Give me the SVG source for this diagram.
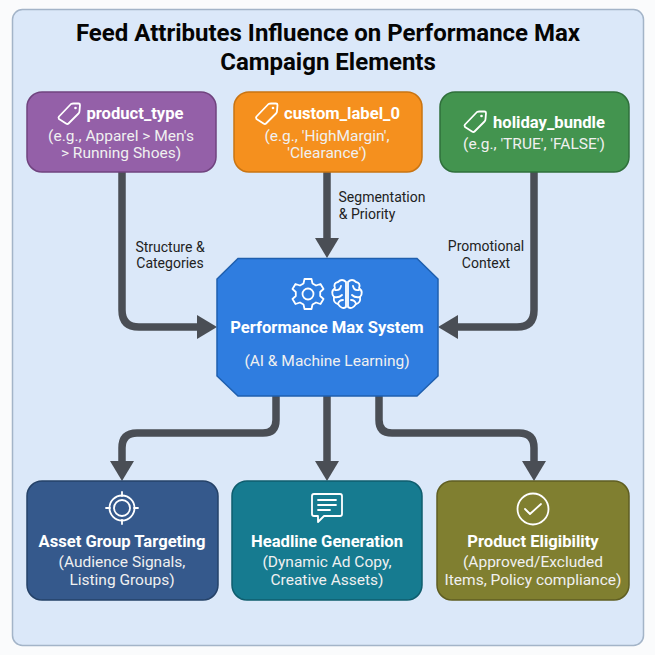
<svg xmlns="http://www.w3.org/2000/svg" width="655" height="655" viewBox="0 0 655 655">
<style>
text{font-family:Roboto,"Liberation Sans",sans-serif;text-anchor:middle}
.t{font-size:24px;font-weight:700;fill:#050505}
.h{font-size:16.6px;font-weight:700;fill:#fff}
.s{font-size:15.5px;fill:#f0f0f0}
.l{font-size:14px;fill:#222}
.n{stroke-width:1.5}
.i{fill:none;stroke:#fff;stroke-width:1.8;stroke-linecap:round;stroke-linejoin:round}
.c{fill:none;stroke:#4a4e55;stroke-width:7.5}
</style>
<defs>
<marker id="a" markerUnits="userSpaceOnUse" markerWidth="24" markerHeight="26" refX="6" refY="12" orient="auto"><path d="M0 0L20 12L0 24Z" fill="#4a4e55"/></marker>
<g id="tag"><path class="i" d="M-10 2.500L2-10Q3-10.500 4.500-10.500L9.500-10.500Q11-10.500 11-9L10.500-3Q10.500-1.500 9.500-.5L-.5 9.500Q-1.500 10.500-3 9.500L-10 5Q-11 3.500-10 2.500Z"/><circle cx="6.500" cy="-6" r="1.300" fill="#fff"/></g>
</defs>
<rect width="655" height="655" fill="#fafbfc"/>
<rect x="12.500" y="9.500" width="631" height="636" rx="10" fill="#dbe8f9" stroke="#a3b4c8" stroke-width="1.500"/>
<text class="t" x="328" y="41">Feed Attributes Influence on Performance Max</text>
<text class="t" x="328" y="70">Campaign Elements</text>
<g id="connectors">
<path class="c" marker-end="url(#a)" d="M122 172V310Q122 327 139 327H203"/>
<path class="c" marker-end="url(#a)" d="M327 172V244"/>
<path class="c" marker-end="url(#a)" d="M534 172V310Q534 327 517 327H452"/>
<path class="c" marker-end="url(#a)" d="M276 396V420Q276 433 263 433H137Q122 433 122 448V467"/>
<path class="c" marker-end="url(#a)" d="M327 396V467"/>
<path class="c" marker-end="url(#a)" d="M379 396V420Q379 433 392 433H519Q534 433 534 448V467"/>
</g>
<g id="labels">
<text class="l" x="170" y="252">Structure &amp;</text><text class="l" x="170" y="268">Categories</text>
<text class="l" x="382" y="202">Segmentation</text><text class="l" x="367" y="219">&amp; Priority</text>
<text class="l" x="486" y="251">Promotional</text><text class="l" x="486" y="268">Context</text>
</g>
<g id="product_type">
<rect class="n" x="27" y="92" width="189" height="80" rx="15" fill="#9460a8" stroke="#70437f"/>
<use href="#tag" x="69" y="114"/>
<text class="h" x="135" y="119">product_type</text>
<text class="s" x="121" y="141">(e.g., Apparel &gt; Men's</text>
<text class="s" x="121" y="158">&gt; Running Shoes)</text>
</g>
<g id="custom_label_0">
<rect class="n" x="234" y="92" width="188" height="80" rx="15" fill="#f5901e" stroke="#c97412"/>
<use href="#tag" x="266.500" y="114"/>
<text class="h" x="342" y="119">custom_label_0</text>
<text class="s" x="327" y="141">(e.g., 'HighMargin',</text>
<text class="s" x="327" y="158">'Clearance')</text>
</g>
<g id="holiday_bundle">
<rect class="n" x="440" y="92" width="189" height="80" rx="15" fill="#43944f" stroke="#2f6f3b"/>
<use href="#tag" x="475" y="122"/>
<text class="h" x="549" y="128">holiday_bundle</text>
<text class="s" x="534" y="149">(e.g., 'TRUE', 'FALSE')</text>
</g>
<g id="performance_max">
<path d="M238 258.500H417L438 279V376L417 396H238L217 376V279Z" fill="#2f7de0" stroke="#1f5fae" stroke-width="1.500"/>
<g class="i" transform="translate(308 294)">
<circle r="5.500"/>
<path d="M-3.500-15H3.500L4.500-10.500L8-8.500L12.500-10L15.500-5L12.200-2V2L15.500 5L12.500 10L8 8.500L4.500 10.500L3.500 15H-3.500L-4.500 10.500L-8 8.500L-12.500 10L-15.500 5L-12.200 2V-2L-15.500-5L-12.500-10L-8-8.500L-4.500-10.500Z"/>
</g>
<g class="i" transform="translate(347 294)">
<path d="M-1-12Q-5-16-9-12Q-14-11-12-6Q-17-2-13 3Q-14 9-9 10Q-5 16-1 13ZM1-12Q5-16 9-12Q14-11 12-6Q17-2 13 3Q14 9 9 10Q5 16 1 13Z"/>
<path d="M-12-4Q-7-3-6-8M-13 3Q-8 4-5 1M-9 10Q-8 6-4 6M12-4Q7-3 6-8M13 3Q8 4 5 1M9 10Q8 6 4 6"/>
</g>
<text class="h" x="327" y="333">Performance Max System</text>
<text class="s" x="327" y="366">(AI &amp; Machine Learning)</text>
</g>
<g id="asset_group">
<rect class="n" x="27" y="481" width="191" height="119" rx="15" fill="#35598c" stroke="#254268"/>
<g class="i" transform="translate(122 508)"><circle r="12.500"/><circle r="8"/><path d="M0-16V-12M0 16V12M-16 0H-12M16 0H12"/></g>
<text class="h" x="122" y="547">Asset Group Targeting</text>
<text class="s" x="122" y="567">(Audience Signals,</text>
<text class="s" x="122" y="585">Listing Groups)</text>
</g>
<g id="headline">
<rect class="n" x="232" y="481" width="190" height="119" rx="15" fill="#167b90" stroke="#0f5d6e"/>
<g class="i" transform="translate(327 508)"><path d="M-13-14H13Q15-14 15-12V6Q15 8 13 8H-3L-9 14V8H-13Q-15 8-15 6V-12Q-15-14-13-14Z"/><path d="M-9-8H9M-9-3H9M-9 2H3"/></g>
<text class="h" x="327" y="547">Headline Generation</text>
<text class="s" x="327" y="567">(Dynamic Ad Copy,</text>
<text class="s" x="327" y="585">Creative Assets)</text>
</g>
<g id="eligibility">
<rect class="n" x="437" y="481" width="192" height="119" rx="15" fill="#807f30" stroke="#5f5e22"/>
<g class="i" transform="translate(533 509)"><circle r="15.500"/><path d="M-8 0L-3 5L8-5"/></g>
<text class="h" x="533" y="547">Product Eligibility</text>
<text class="s" x="533" y="567">(Approved/Excluded</text>
<text class="s" x="533" y="585">Items, Policy compliance)</text>
</g>
</svg>
